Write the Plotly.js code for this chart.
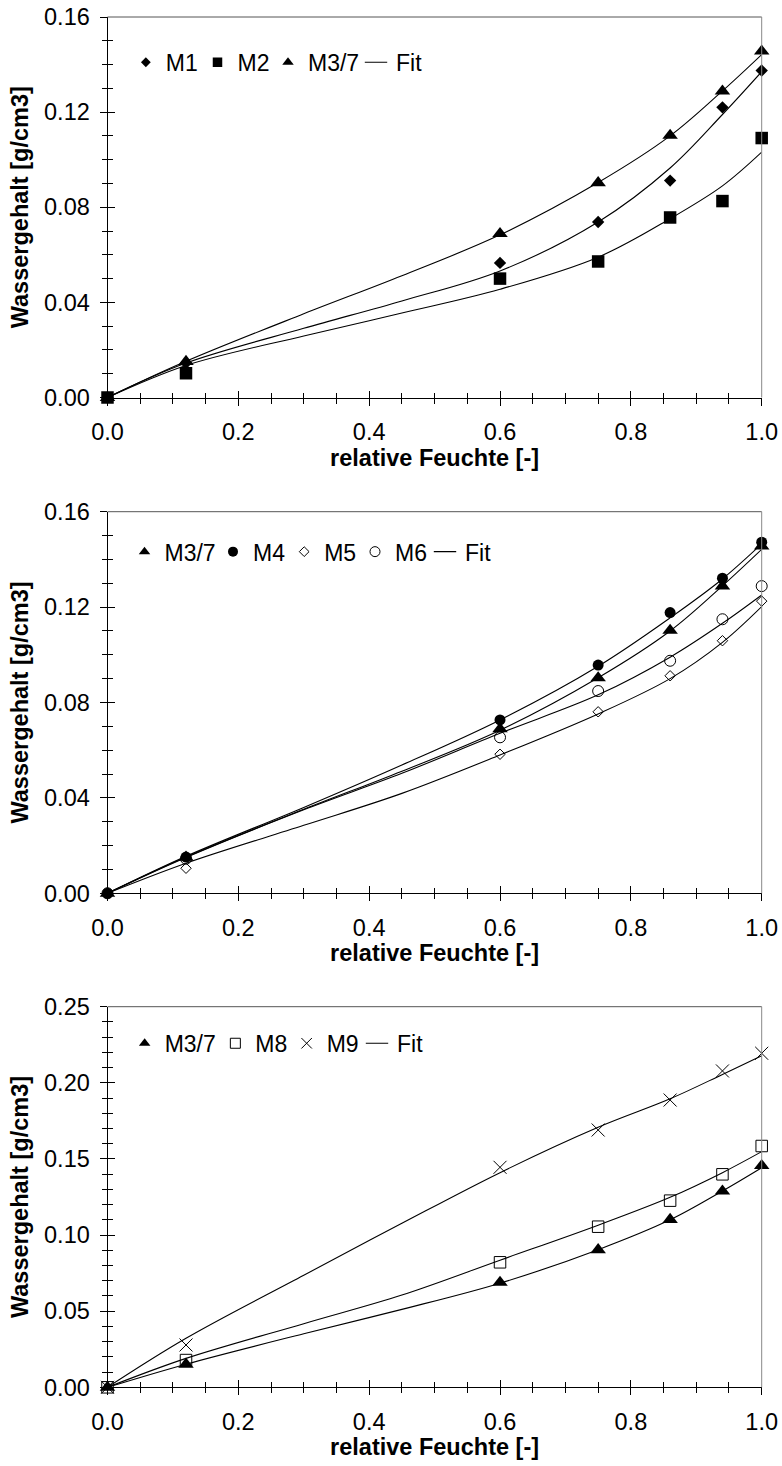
<!DOCTYPE html>
<html><head><meta charset="utf-8">
<script src="https://cdn.plot.ly/plotly-3.0.1.min.js"></script>
<style>html,body{margin:0;padding:0;background:#fff}</style>
</head><body>
<div id="chart" style="width:782px;height:1466px"></div>
<script>
// measured relative humidity steps
const xMeas = [0, 0.12, 0.6, 0.75, 0.86, 0.94, 1.0];
const M1  = [0, 0.0145, 0.0566, 0.0738, 0.0912, 0.1220, 0.1375];
const M2  = [0, 0.0102, 0.0500, 0.0572, 0.0757, 0.0826, 0.1091];
const M37 = [0, 0.0151, 0.0689, 0.0903, 0.1102, 0.1288, 0.1456];
const M4  = [0, 0.0152, 0.0727, 0.0957, 0.1177, 0.1321, 0.1472];
const M5  = [0, 0.0105, 0.0583, 0.0761, 0.0912, 0.1059, 0.1225];
const M6  = [0, 0.0145, 0.0654, 0.0848, 0.0975, 0.1149, 0.1288];
const M8  = [0, 0.0179, 0.0821, 0.1055, 0.1226, 0.1399, 0.1585];
const M9  = [0, 0.0278, 0.1445, 0.1690, 0.1887, 0.2078, 0.2194];
// fit curves
const xFit   = [0, 0.12, 0.3, 0.45, 0.6, 0.75, 0.86, 0.94, 1.0];
const fitM1  = [0, 0.0145, 0.0291, 0.0406, 0.0532, 0.0738, 0.0965, 0.1190, 0.1370];
const fitM2  = [0, 0.0135, 0.0259, 0.0355, 0.0455, 0.0590, 0.0752, 0.0890, 0.1032];
const fitM37 = [0, 0.0152, 0.0352, 0.0512, 0.0684, 0.0904, 0.1100, 0.1289, 0.1442];
const fitM4  = [0, 0.0155, 0.0360, 0.0538, 0.0727, 0.0952, 0.1155, 0.1318, 0.1465];
const fitM5  = [0, 0.0126, 0.0285, 0.0419, 0.0580, 0.0752, 0.0900, 0.1052, 0.1202];
const fitM6  = [0, 0.0150, 0.0350, 0.0503, 0.0671, 0.0832, 0.0990, 0.1132, 0.1251];
const fitM8  = [0, 0.0190, 0.0418, 0.0606, 0.0835, 0.1065, 0.1248, 0.1410, 0.1548];
const fitM9  = [0, 0.0322, 0.0736, 0.1077, 0.1410, 0.1708, 0.1895, 0.2055, 0.2178];

const xTitle = 'relative Feuchte [-]';
const yTitle = 'Wassergehalt [g/cm3]';

const FONT = 'Liberation Sans, Arial, sans-serif';
const W = 782, H = 1466;
const xDom = [107.5 / W, 761.7 / W];
const yDoms = [
  [(H - 397.5) / H, (H - 17) / H],
  [(H - 893.3) / H, (H - 511.7) / H],
  [(H - 1387.3) / H, (H - 1006.7) / H]
];
const yRanges = [[0, 0.16], [0, 0.16], [0, 0.25]];
const yDticks = [0.04, 0.04, 0.05];

const traces = [];
const ax = i => (i ? String(i + 1) : '');
function fit(y, i) {
  traces.push({x: xFit, y: y, xaxis: 'x' + ax(i), yaxis: 'y' + ax(i),
    mode: 'lines', line: {color: '#000', width: 1.1, shape: 'spline', smoothing: 1},
    showlegend: false, hoverinfo: 'skip', cliponaxis: false});
}
function pts(y, i, symbol, size, open) {
  traces.push({x: xMeas, y: y, xaxis: 'x' + ax(i), yaxis: 'y' + ax(i),
    mode: 'markers', cliponaxis: false, showlegend: false,
    marker: {symbol: symbol, size: size, color: '#000', line: {color: '#000', width: open ? 1 : 0}}});
}
// legend entries: one small legend per entry, placed like the reference
const legendDefs = [];
function leg(name, i, symbol, size, open, isLine, symX, textX, yPix) {
  const n = legendDefs.length;
  const lname = 'legend' + (n ? n + 1 : '');
  const t = {x: [null], y: [null], xaxis: 'x' + ax(i), yaxis: 'y' + ax(i),
    name: name, legend: lname, showlegend: true, hoverinfo: 'skip', mode: 'markers'};
  if (isLine) { t.marker = {symbol: 'line-ew', size: 20, color: '#000', line: {color: '#000', width: 1.1}}; }
  else { t.marker = {symbol: symbol, size: size, color: '#000', line: {color: '#000', width: open ? 1 : 0}}; }
  traces.push(t);
  const left = isLine ? symX - 20 : (symX + textX) / 2 - 30;
  legendDefs.push({name: lname, left: left, y: yPix});
}

// Plot 1
fit(fitM1, 0); fit(fitM2, 0); fit(fitM37, 0);
pts(M1, 0, 'diamond', 9.5); pts(M2, 0, 'square', 12.5); pts(M37, 0, 'triangle-up', 13.5);
leg('M1', 0, 'diamond', 7.5, false, false, 146.7, 165, 62.3);
leg('M2', 0, 'square', 9.5, false, false, 218.3, 236.7, 62.3);
leg('M3/7', 0, 'triangle-up', 10, false, false, 289.3, 306.7, 62.3);
leg('Fit', 0, null, 0, false, true, 376, 396, 62.3);
// Plot 2
fit(fitM37, 1); fit(fitM4, 1); fit(fitM5, 1); fit(fitM6, 1);
pts(M37, 1, 'triangle-up', 13.5); pts(M4, 1, 'circle', 11); pts(M5, 1, 'diamond-open', 8, true); pts(M6, 1, 'circle-open', 11, true);
leg('M3/7', 1, 'triangle-up', 10, false, false, 147.3, 161.7, 551.7);
leg('M4', 1, 'circle', 10, false, false, 234.3, 251.7, 551.7);
leg('M5', 1, 'diamond-open', 7.5, true, false, 306.7, 321.7, 551.7);
leg('M6', 1, 'circle-open', 10, true, false, 376.7, 393.3, 551.7);
leg('Fit', 1, null, 0, false, true, 445, 465, 551.7);
// Plot 3
fit(fitM37, 2); fit(fitM8, 2); fit(fitM9, 2);
pts(M37, 2, 'triangle-up', 13.5); pts(M8, 2, 'square-open', 11.5, true); pts(M9, 2, 'x-thin', 13, true);
leg('M3/7', 2, 'triangle-up', 10, false, false, 146, 163.3, 1043.3);
leg('M8', 2, 'square-open', 10, true, false, 236.7, 254, 1043.3);
leg('M9', 2, 'x-thin', 10.5, true, false, 308.3, 325, 1043.3);
leg('Fit', 2, null, 0, false, true, 377, 397, 1043.3);

// overlay helper traces for crossing ticks
for (let i = 0; i < 3; i++) {
  traces.push({x: [null], y: [null], xaxis: 'x' + (i + 4), yaxis: 'y' + ax(i), showlegend: false, hoverinfo: 'skip', mode: 'markers'});
  traces.push({x: [null], y: [null], xaxis: 'x' + ax(i), yaxis: 'y' + (i + 4), showlegend: false, hoverinfo: 'skip', mode: 'markers'});
}

const layout = {
  width: W, height: H, margin: {l: 0, r: 0, t: 0, b: 0},
  paper_bgcolor: '#fff', plot_bgcolor: '#fff',
  font: {family: FONT, size: 23, color: '#000'},
  showlegend: true, shapes: []
};
for (let i = 0; i < 3; i++) {
  const sx = ax(i);
  layout['xaxis' + sx] = {
    domain: xDom, range: [0, 1], anchor: 'y' + sx, dtick: 0.2, tick0: 0, tickformat: '.1f',
    ticks: 'outside', ticklen: 7, tickwidth: 1, tickcolor: '#000',
    minor: {dtick: 0.05, tick0: 0, ticks: 'outside', ticklen: 5, tickwidth: 1, tickcolor: '#000', showgrid: false},
    showline: true, linecolor: '#000', linewidth: 1, showgrid: false, zeroline: false,
    tickfont: {family: FONT, size: 23.5, color: '#000'}, ticklabelstandoff: 6,
    title: {text: xTitle, font: {family: FONT, size: 23.5, color: '#000', weight: 'bold'}, standoff: 3},
    fixedrange: true
  };
  layout['yaxis' + sx] = {
    domain: yDoms[i], range: yRanges[i], anchor: 'x' + sx, dtick: yDticks[i], tick0: 0, tickformat: '.2f',
    ticks: 'outside', ticklen: 7, tickwidth: 1, tickcolor: '#000',
    minor: {dtick: 0.01, tick0: 0, ticks: 'outside', ticklen: 5, tickwidth: 1, tickcolor: '#000', showgrid: false},
    showline: true, linecolor: '#000', linewidth: 1, showgrid: false, zeroline: false,
    tickfont: {family: FONT, size: 23.5, color: '#000'}, ticklabelstandoff: 5,
    title: {text: yTitle, font: {family: FONT, size: 23.5, color: '#000', weight: 'bold'}, standoff: 8},
    fixedrange: true
  };
  layout['xaxis' + (i + 4)] = {
    overlaying: 'x' + sx, anchor: 'y' + sx, side: 'bottom', range: [0, 1], dtick: 0.2, tick0: 0,
    ticks: 'inside', ticklen: 7, tickwidth: 1, tickcolor: '#000',
    minor: {dtick: 0.05, tick0: 0, ticks: 'inside', ticklen: 5, tickwidth: 1, tickcolor: '#000', showgrid: false},
    showticklabels: false, showline: false, showgrid: false, zeroline: false, fixedrange: true
  };
  layout['yaxis' + (i + 4)] = {
    overlaying: 'y' + sx, anchor: 'x' + sx, side: 'left', range: yRanges[i], dtick: yDticks[i], tick0: 0,
    ticks: 'inside', ticklen: 7, tickwidth: 1, tickcolor: '#000',
    minor: {dtick: 0.01, tick0: 0, ticks: 'inside', ticklen: 5, tickwidth: 1, tickcolor: '#000', showgrid: false},
    showticklabels: false, showline: false, showgrid: false, zeroline: false, fixedrange: true
  };
  layout.shapes.push({type: 'line', xref: 'x' + sx + ' domain', yref: 'y' + sx + ' domain', x0: 0, x1: 1, y0: 1, y1: 1, line: {color: '#555', width: 1}});
  layout.shapes.push({type: 'line', xref: 'x' + sx + ' domain', yref: 'y' + sx + ' domain', x0: 1, x1: 1, y0: 0, y1: 1, line: {color: '#888', width: 1}});
}
legendDefs.forEach(d => {
  layout[d.name] = {
    orientation: 'h', x: d.left / W, xanchor: 'left', y: 1 - d.y / H, yanchor: 'middle',
    bgcolor: 'rgba(0,0,0,0)', borderwidth: 0, traceorder: 'normal',
    font: {family: FONT, size: 23, color: '#000'}, itemclick: false, itemdoubleclick: false
  };
});

Plotly.newPlot('chart', traces, layout, {displayModeBar: false, staticPlot: true});
</script>
</body></html>
